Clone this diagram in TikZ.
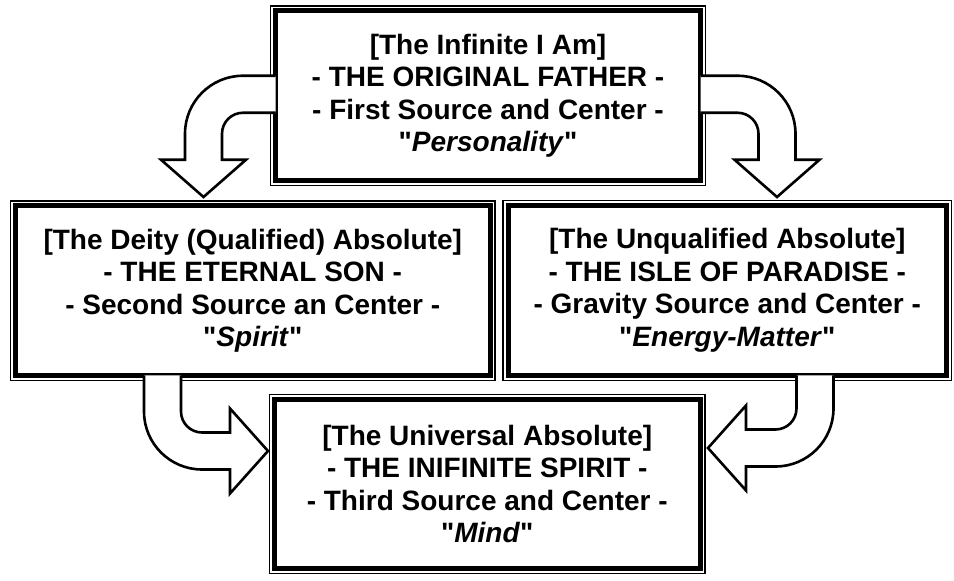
\documentclass[tikz,border=0pt]{standalone}
\usepackage{fontspec}
\setmainfont{Liberation Sans}[Ligatures=TeXOff]
\usepackage{tikz}

\begin{document}
\begin{tikzpicture}[x=1pt,y=1pt,line width=0.4pt]
\providecommand{\fbig}{\fontsize{28}{32.5}\selectfont}
\tikzset{godbox/.style={draw=black,line width=5pt,fill=white,outer sep=0pt,inner sep=0pt,align=center,font=\fbig\bfseries},rim/.style={draw=black,line width=1.2pt},hollow/.style={draw=black,line width=2.6pt,fill=white,line join=miter}}
\useasboundingbox[fill=white] (0,0) rectangle (954,581);
% the four boxes
\node[godbox,minimum width=425pt,minimum height=169.5pt] (father) at (488,485.25) {[The Infinite I Am]\\- THE ORIGINAL FATHER -\\- First Source and Center -\\"\textit{Personality}"};
\node[godbox,minimum width=474.5pt,minimum height=169.5pt] (son) at (252.75,290.25) {[The Deity (Qualified) Absolute]\\- THE ETERNAL SON -\\- Second Source an Center -\\"\textit{Spirit}"};
\node[godbox,minimum width=438.5pt,minimum height=170pt] (isle) at (727.25,290.5) {[The Unqualified Absolute]\\- THE ISLE OF PARADISE -\\- Gravity Source and Center -\\"\textit{Energy-Matter}"};
\node[godbox,minimum width=425.5pt,minimum height=169pt] (spirit) at (487.25,97) {[The Universal Absolute]\\- THE INIFINITE SPIRIT -\\- Third Source and Center -\\"\textit{Mind}"};
\foreach \n in {father,son,isle,spirit}
  \draw[rim] ([shift={(-5,5)}]\n.north west) rectangle ([shift={(5,-5)}]\n.south east);
% hollow bent arrows
\draw[hollow] ([yshift=20]father.west) -- ++(-32.5,0) arc[start angle=90,end angle=180,radius=58] -- ++(0,-26) -- ++(-24,0) -- ++(42.5,-37.25) -- ++(42.5,37.25) -- ++(-24,0) -- ++(0,26) arc[start angle=180,end angle=90,radius=21] -- ++(32.5,0);
\draw[hollow] ([yshift=20]father.east) -- ++(37,0) arc[start angle=90,end angle=0,radius=58] -- ++(0,-26) -- ++(24,0) -- ++(-42.5,-37.25) -- ++(-42.5,37.25) -- ++(24,0) -- ++(0,26) arc[start angle=0,end angle=90,radius=21] -- ++(-37,0);
\draw[hollow] ([xshift=-108.75]son.south) -- ++(0,-36) arc[start angle=180,end angle=270,radius=58] -- ++(28,0) -- ++(0,-24) -- ++(38,42.5) -- ++(-38,42.5) -- ++(0,-24) -- ++(-28,0) arc[start angle=270,end angle=180,radius=21] -- ++(0,36);
\draw[hollow] ([xshift=106.25]isle.south) -- ++(0,-33) arc[start angle=0,end angle=-90,radius=58] -- ++(-29.5,0) -- ++(0,-24) -- ++(-38,42.5) -- ++(38,42.5) -- ++(0,-24) -- ++(29.5,0) arc[start angle=-90,end angle=0,radius=21] -- ++(0,33);
\end{tikzpicture}
\end{document}
